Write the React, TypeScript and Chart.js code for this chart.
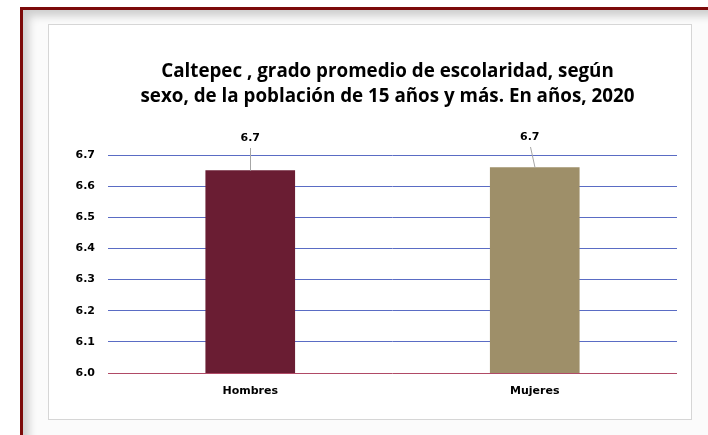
import React, { useEffect, useRef } from "react";
import { Chart, registerables } from "chart.js";

Chart.register(...registerables);

const titleLines = [
  "Caltepec , grado promedio de escolaridad, según",
  "sexo, de la población de 15 años y más. En años, 2020",
];
const categories = ["Hombres", "Mujeres"];
const values = [6.65, 6.66];
const yMin = 6.0;
const yMax = 6.7;
const yStep = 0.1;
const barColors = ["#6a1d33", "#9e8f69"];
const labelDx = [0, -5];
const labelDy = [-17, -18];

const TICK_FONT = "'DejaVu Sans', Verdana, sans-serif";
const TITLE_FONT = "'Open Sans', Lato, sans-serif";

const annotations = {
  id: "annotations",
  afterDatasetsDraw(chart: any) {
    const ctx = chart.ctx;
    const area = chart.chartArea;
    const meta = chart.getDatasetMeta(0);
    ctx.save();
    // title
    ctx.fillStyle = "#000";
    ctx.textAlign = "center";
    ctx.textBaseline = "alphabetic";
    ctx.font = `bold 18.8px ${TITLE_FONT}`;
    const cx = (area.left + area.right) / 2 - 5;
    titleLines.forEach((line, i) => {
      ctx.fillText(line, cx, area.top - 78 + i * 25);
    });
    // data labels with leader lines
    ctx.font = `bold 11px ${TICK_FONT}`;
    ctx.textBaseline = "middle";
    meta.data.forEach((bar: any, i: number) => {
      const lx = bar.x + labelDx[i];
      const ly = area.top + labelDy[i];
      const txt = values[i].toFixed(1);
      ctx.fillStyle = "#000";
      ctx.fillText(txt, lx, ly);
      ctx.strokeStyle = "#a6a6a6";
      ctx.lineWidth = 1;
      ctx.beginPath();
      ctx.moveTo(Math.round(lx) + 0.5, ly + 10);
      ctx.lineTo(Math.round(bar.x) + (labelDx[i] ? 0 : 0.5), bar.y);
      ctx.stroke();
    });
    ctx.restore();
  },
};

export default function App() {
  const ref = useRef<HTMLCanvasElement | null>(null);

  useEffect(() => {
    if (!ref.current) return;
    const chart = new Chart(ref.current, {
      type: "bar",
      data: {
        labels: categories,
        datasets: [
          {
            data: values,
            backgroundColor: barColors,
            borderWidth: 0,
            barThickness: 89,
          },
        ],
      },
      options: {
        animation: false,
        responsive: false,
        maintainAspectRatio: false,
        layout: { padding: { top: 130, right: 14, bottom: 0, left: 0 } },
        plugins: {
          legend: { display: false },
          title: { display: false },
          tooltip: { enabled: false },
        },
        scales: {
          x: {
            grid: { display: false, drawTicks: false },
            border: { display: false },
            ticks: {
              padding: 12,
              color: "#000",
              font: { family: TICK_FONT, size: 11, weight: "bold" },
            },
            afterFit: (s: any) => {
              s.height = 46;
            },
          },
          y: {
            min: yMin,
            max: yMax,
            grid: {
              drawTicks: false,
              lineWidth: 1,
              color: (c: any) =>
                c.tick && Math.abs(c.tick.value - yMin) < 1e-9 ? "#b04a66" : "#5a6cc4",
            },
            border: { display: false },
            ticks: {
              stepSize: yStep,
              padding: 13,
              color: "#000",
              font: { family: TICK_FONT, size: 11, weight: "bold" },
              callback: (v: any) => Number(v).toFixed(1),
            },
            afterFit: (s: any) => {
              s.width = 59;
            },
          },
        },
      },
      plugins: [annotations],
    } as any);
    return () => chart.destroy();
  }, []);

  return (
    <div
      style={{
        position: "fixed",
        left: 0,
        top: 0,
        width: 708,
        height: 435,
        background: "#fff",
        overflow: "hidden",
      }}
    >
      <div
        style={{
          position: "absolute",
          left: 20,
          top: 7,
          width: 700,
          height: 425,
          borderTop: "3px solid #7c0a0a",
          borderLeft: "3px solid #7c0a0a",
          borderBottom: "1px solid #d49a9a",
          boxShadow: "inset 9px 9px 9px -3px rgba(0,0,0,0.18)",
          background: "#fbfbfb",
        }}
      />
      <div
        style={{
          position: "absolute",
          left: 48,
          top: 24,
          width: 642,
          height: 394,
          border: "1px solid #d6d6d6",
          background: "#fff",
        }}
      >
        <canvas
          ref={ref}
          width={642}
          height={394}
          style={{ display: "block", width: 642, height: 394 }}
        />
      </div>
    </div>
  );
}
